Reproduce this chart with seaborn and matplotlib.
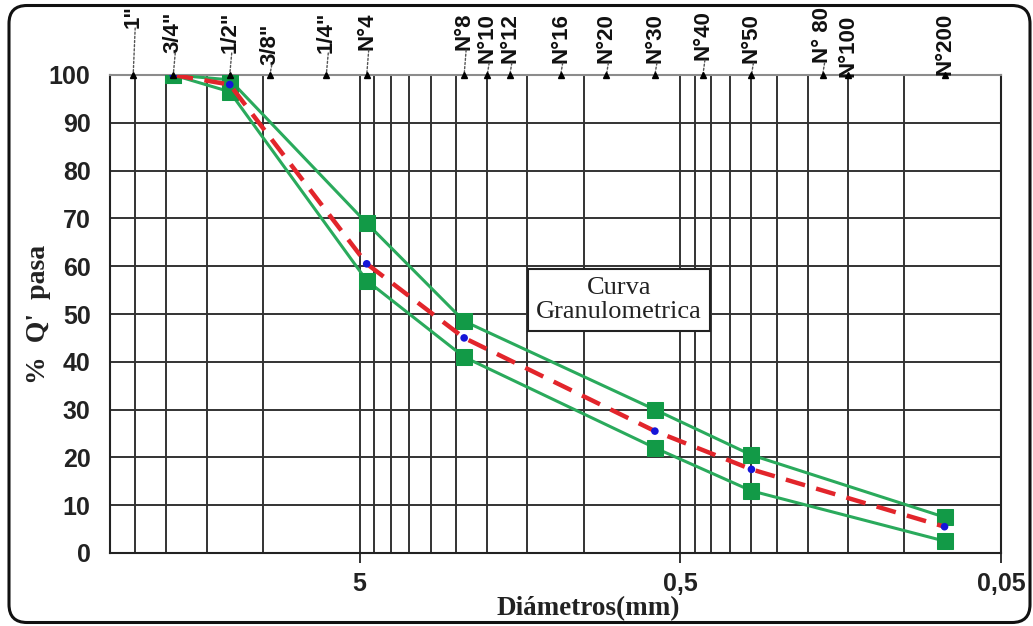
import matplotlib
matplotlib.use("Agg")
import matplotlib.pyplot as plt
from matplotlib.patches import FancyBboxPatch
from matplotlib.ticker import NullFormatter
import seaborn as sns
import pandas as pd

# Sieve series (ASTM) shown along the top of the chart
sieve_labels = ['1"', '3/4"', '1/2"', '3/8"', '1/4"', 'N°4', 'N°8', 'N°10', 'N°12',
                'N°16', 'N°20', 'N°30', 'N°40', 'N°50', 'N° 80', 'N°100', 'N°200']
sieve_mm = [25.4, 19.05, 12.7, 9.525, 6.35, 4.75, 2.36, 2.0, 1.7,
            1.18, 0.85, 0.6, 0.425, 0.3, 0.18, 0.15, 0.075]

# Sieves used in the gradation test
test_mm = [19.05, 12.7, 4.75, 2.36, 0.6, 0.3, 0.075]
upper_limit = [100, 99, 69, 48.5, 30, 20.5, 7.5]
lower_limit = [100, 96.5, 57, 41, 22, 13, 2.5]
sample_pass = [100, 98, 60.5, 45, 25.5, 17.5, 5.5]

# Axis ticks and grid
x_ticks = [5, 0.5, 0.05]
x_ticklabels = ['5', '0,5', '0,05']
y_ticks = list(range(0, 101, 10))
grid_mm = [25, 20, 15, 10, 4.5, 4, 3.5, 3, 2.5, 2, 1.5, 1,
           0.45, 0.4, 0.35, 0.3, 0.25, 0.2, 0.15, 0.1]

# label heights above the plot frame (pixels)
label_lift = [47, 22, 22, 10, 22, 25, 25, 12, 12, 12, 12, 12, 15, 12, 12, -2, 0]

sns.set_theme(style="white")
plt.rcParams['font.family'] = ['Liberation Sans', 'DejaVu Sans']

W, H = 1033, 626
fig = plt.figure(figsize=(W / 100, H / 100), dpi=100)
fig.patch.set_facecolor('white')
ax = fig.add_axes([110 / W, 1 - 553 / H, 891 / W, 478 / H])
ax.set_facecolor('white')

df = pd.DataFrame({'mm': test_mm, 'sup': upper_limit, 'inf': lower_limit, 'muestra': sample_pass})

green_line = '#2aaa5c'
green_mark = '#129a47'
for col in ['sup', 'inf']:
    sns.lineplot(data=df, x='mm', y=col, ax=ax, sort=False, color=green_line, lw=2.2,
                 marker='s', markersize=11.5, markerfacecolor=green_mark,
                 markeredgecolor=green_mark, zorder=4)
sns.lineplot(data=df, x='mm', y='muestra', ax=ax, sort=False, color='#e2252b', lw=3.2,
             dashes=(4.5, 2.6), zorder=5)
sns.scatterplot(data=df, x='mm', y='muestra', ax=ax, color='#1515d8', s=30,
                edgecolor='none', zorder=6)

ax.set_xscale('log')
ax.set_xlim(30, 0.05)
ax.set_ylim(0, 100)
ax.set_xticks(x_ticks)
ax.set_xticklabels(x_ticklabels)
ax.set_xticks(grid_mm, minor=True)
ax.xaxis.set_minor_formatter(NullFormatter())
ax.set_yticks(y_ticks)
ax.tick_params(axis='x', which='major', length=7, width=1.3, color='#222222',
               direction='out', bottom=True, pad=7, labelsize=18)
ax.tick_params(axis='x', which='minor', length=0)
ax.tick_params(axis='y', length=0, pad=14, labelsize=18)
for lab in ax.get_xticklabels() + ax.get_yticklabels():
    lab.set_fontweight('bold')
    lab.set_color('#222222')

ax.grid(True, which='both', axis='x', color='#333333', lw=1.4)
ax.grid(True, which='major', axis='y', color='#333333', lw=1.4)
ax.set_axisbelow(True)
for side in ['left', 'bottom', 'right']:
    ax.spines[side].set_color('#222222')
    ax.spines[side].set_linewidth(1.5)
ax.spines['top'].set_color('#8c8c8c')
ax.spines['top'].set_linewidth(1.5)

serif = ['Liberation Serif', 'DejaVu Serif']
ax.set_xlabel('Diámetros(mm)', family=serif, fontweight='bold', fontsize=19.5, color='#222222')
ax.xaxis.set_label_coords((588 - 110) / 891, -0.09)
ax.set_ylabel("%  Q'  pasa", family=serif, fontweight='bold', fontsize=20, color='#222222')
ax.yaxis.set_label_coords(-0.066, 0.5)

# sieve designations on top with leader lines
for name, d, lift in zip(sieve_labels, sieve_mm, label_lift):
    ax.plot([d], [100], marker='^', color='black', markersize=4.5, clip_on=False, zorder=7)
    ax.annotate(name, xy=(d, 100), xycoords='data', xytext=(0, lift),
                textcoords='offset pixels', rotation=90, ha='center', va='bottom',
                fontsize=16, fontweight='bold', color='#111111', annotation_clip=False)
    if lift > 4:
        ax.annotate('', xy=(d, 100), xycoords='data', xytext=(2, lift),
                    textcoords='offset pixels', annotation_clip=False,
                    arrowprops=dict(arrowstyle='-', color='#555555', lw=1.0,
                                    linestyle=(0, (1.5, 1.5)), shrinkA=0, shrinkB=0))

ax.text(0.775, 52.9, 'Curva\nGranulometrica', family=serif, fontsize=19, color='#222222',
        ha='center', va='center', linespacing=1.1, zorder=8,
        bbox=dict(boxstyle='square,pad=0.3', facecolor='white', edgecolor='#222222', lw=1.5))

# rounded frame around the whole figure
frame = FancyBboxPatch((0.09, 0.035), 10.21, 6.17,
                       boxstyle='round,pad=0,rounding_size=0.18',
                       transform=fig.dpi_scale_trans, facecolor='none',
                       edgecolor='#111111', lw=2.2)
fig.patches.append(frame)

fig.savefig('out.png', dpi=100)
